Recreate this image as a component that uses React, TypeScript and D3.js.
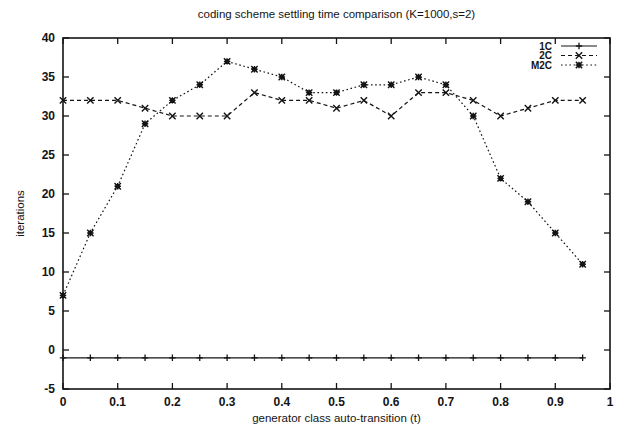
import React from "react";
import * as d3 from "d3";

const W = 618;
const H = 427;
const M = { left: 63, right: 8, top: 38, bottom: 38 };

const tValues = [0, 0.05, 0.1, 0.15, 0.2, 0.25, 0.3, 0.35, 0.4, 0.45, 0.5, 0.55, 0.6, 0.65, 0.7, 0.75, 0.8, 0.85, 0.9, 0.95];
const series1C = [-1, -1, -1, -1, -1, -1, -1, -1, -1, -1, -1, -1, -1, -1, -1, -1, -1, -1, -1, -1];
const series2C = [32, 32, 32, 31, 30, 30, 30, 33, 32, 32, 31, 32, 30, 33, 33, 32, 30, 31, 32, 32];
const seriesM2C = [7, 15, 21, 29, 32, 34, 37, 36, 35, 33, 33, 34, 34, 35, 34, 30, 22, 19, 15, 11];
const seriesNames = ["1C", "2C", "M2C"];
const xTicks = [0, 0.1, 0.2, 0.3, 0.4, 0.5, 0.6, 0.7, 0.8, 0.9, 1];
const yTicks = [-5, 0, 5, 10, 15, 20, 25, 30, 35, 40];

const titleText = "coding scheme settling time comparison (K=1000,s=2)";
const xLabel = "generator class auto-transition (t)";
const yLabel = "iterations";

const INK = "#141414";
const FONT = "'Liberation Sans', Arial, Helvetica, sans-serif";

type Marker = "plus" | "cross" | "star";

function MarkerShape({ x, y, kind }: { x: number; y: number; kind: Marker }) {
  const s = 3.2;
  if (kind === "plus") {
    return (
      <path d={`M${x - s},${y}H${x + s}M${x},${y - s}V${y + s}`} stroke={INK} strokeWidth={1.3} fill="none" />
    );
  }
  if (kind === "cross") {
    return (
      <path d={`M${x - s},${y - s}L${x + s},${y + s}M${x - s},${y + s}L${x + s},${y - s}`} stroke={INK} strokeWidth={1.4} fill="none" />
    );
  }
  return (
    <g>
      <path
        d={`M${x - s},${y - s}L${x + s},${y + s}M${x - s},${y + s}L${x + s},${y - s}M${x - s},${y}H${x + s}M${x},${y - s}V${y + s}`}
        stroke={INK}
        strokeWidth={1.4}
        fill="none"
      />
      <rect x={x - 2.2} y={y - 2.2} width={4.4} height={4.4} fill={INK} />
    </g>
  );
}

export default function App() {
  const x = d3.scaleLinear().domain([0, 1]).range([M.left, W - M.right]);
  const y = d3.scaleLinear().domain([-5, 40]).range([H - M.bottom, M.top]);

  const line = d3
    .line<number>()
    .x((_, i) => x(tValues[i]))
    .y((d) => y(d));

  const seriesData = [series1C, series2C, seriesM2C];
  const dashes = ["none", "4,3", "1.6,2.6"];
  const markers: Marker[] = ["plus", "cross", "star"];

  const x0 = x(0);
  const x1 = x(1);
  const yTop = y(40);
  const yBot = y(-5);
  const tl = 6;

  const legendTextX = 552;
  const legendLineX0 = 561;
  const legendLineX1 = 597;
  const legendY0 = 46;
  const legendDy = 9.5;

  return (
    <svg
      width={W}
      height={H}
      style={{ position: "absolute", left: 0, top: 0, background: "#fff" }}
      fontFamily={FONT}
    >
      <rect width={W} height={H} fill="#fff" />
      {/* title */}
      <text x={(x0 + x1) / 2} y={18} textAnchor="middle" fontSize={11.5} fill={INK}>
        {titleText}
      </text>

      {/* ticks */}
      {yTicks.map((t) => (
        <g key={"y" + t}>
          <line x1={x0} x2={x0 + tl} y1={y(t)} y2={y(t)} stroke={INK} strokeWidth={1.3} />
          <line x1={x1} x2={x1 - tl} y1={y(t)} y2={y(t)} stroke={INK} strokeWidth={1.3} />
          <text x={55} y={y(t)} dy="0.36em" textAnchor="end" fontSize={12} fontWeight="bold" fill={INK}>
            {t}
          </text>
        </g>
      ))}
      {xTicks.map((t) => (
        <g key={"x" + t}>
          <line x1={x(t)} x2={x(t)} y1={yBot} y2={yBot - tl} stroke={INK} strokeWidth={1.3} />
          <line x1={x(t)} x2={x(t)} y1={yTop} y2={yTop + tl} stroke={INK} strokeWidth={1.3} />
          <text x={x(t)} y={406} textAnchor="middle" fontSize={12} fontWeight="bold" fill={INK}>
            {t}
          </text>
        </g>
      ))}

      {/* frame */}
      <rect x={x0} y={yTop} width={x1 - x0} height={yBot - yTop} fill="none" stroke={INK} strokeWidth={1.6} />

      {/* axis labels */}
      <text x={(x0 + x1) / 2} y={422} textAnchor="middle" fontSize={11.5} fill={INK}>
        {xLabel}
      </text>
      <text
        transform={`translate(24,${(yTop + yBot) / 2}) rotate(-90)`}
        textAnchor="middle"
        fontSize={11.5}
        fill={INK}
      >
        {yLabel}
      </text>

      {/* series */}
      {seriesData.map((data, si) => (
        <g key={seriesNames[si]}>
          <path d={line(data) || ""} fill="none" stroke={INK} strokeWidth={1.2} strokeDasharray={dashes[si]} />
          {data.map((v, i) => (
            <MarkerShape key={i} x={x(tValues[i])} y={y(v)} kind={markers[si]} />
          ))}
        </g>
      ))}

      {/* legend */}
      {seriesNames.map((name, si) => {
        const ly = legendY0 + si * legendDy;
        return (
          <g key={"lg" + name}>
            <text x={legendTextX} y={ly} dy="0.35em" textAnchor="end" fontSize={10} fontWeight="bold" fill={INK}>
              {name}
            </text>
            <line x1={legendLineX0} x2={legendLineX1} y1={ly} y2={ly} stroke={INK} strokeWidth={1.2} strokeDasharray={dashes[si]} />
            <MarkerShape x={(legendLineX0 + legendLineX1) / 2} y={ly} kind={markers[si]} />
          </g>
        );
      })}
    </svg>
  );
}
